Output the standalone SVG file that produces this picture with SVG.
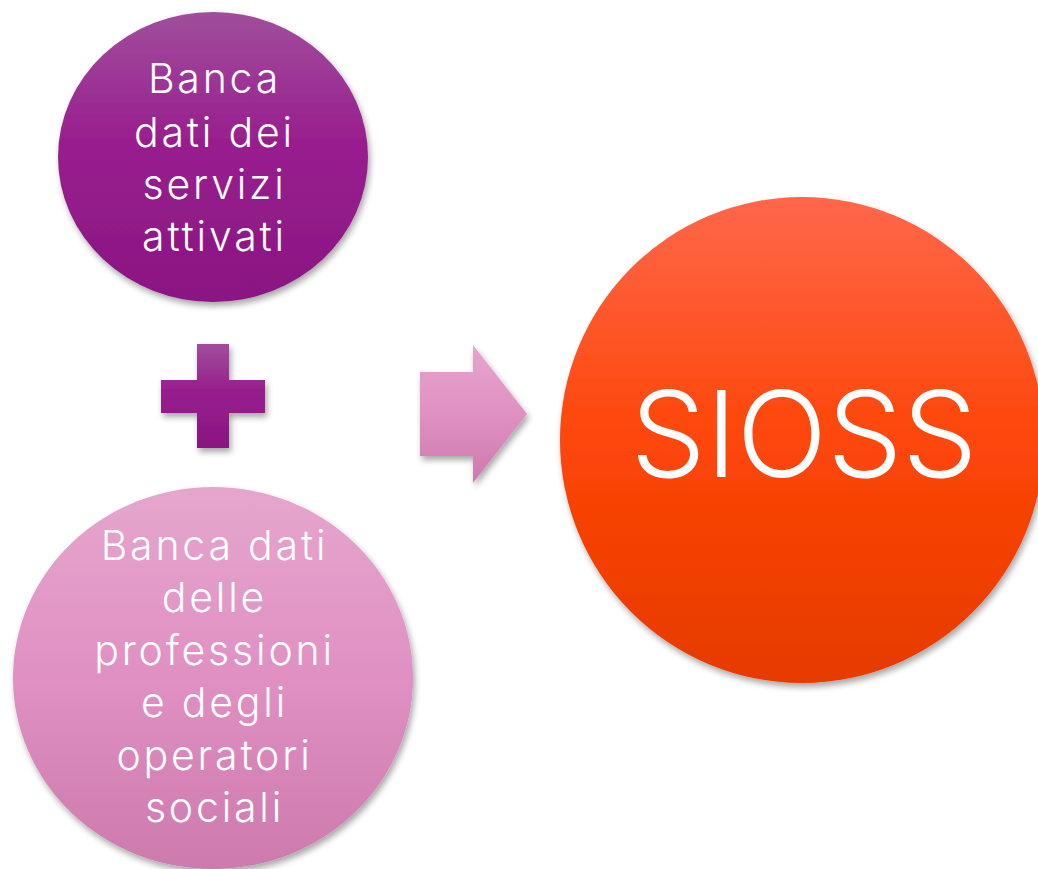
<svg xmlns="http://www.w3.org/2000/svg" width="1038" height="869" viewBox="0 0 1038 869">
<style>
.lbl{font-family:Inter,"Noto Sans","Liberation Sans",sans-serif;fill:#ffffff;text-anchor:middle;font-weight:300;font-variant-ligatures:none}
.sm{font-size:41px;letter-spacing:2.8px}
.big{font-size:119px}
</style>
<defs>
<filter id="sh" x="-20%" y="-20%" width="140%" height="140%">
<feDropShadow dx="2" dy="4" stdDeviation="3" flood-color="#000" flood-opacity="0.35"/>
</filter>
<linearGradient id="gPurple" x1="0" y1="0" x2="0" y2="1">
<stop offset="0" stop-color="#a04e9c"/>
<stop offset="0.45" stop-color="#981e8e"/>
<stop offset="1" stop-color="#8a1682"/>
</linearGradient>
<linearGradient id="gPink" x1="0" y1="0" x2="0" y2="1">
<stop offset="0" stop-color="#e5a6cd"/>
<stop offset="0.5" stop-color="#e090c3"/>
<stop offset="1" stop-color="#cd7aae"/>
</linearGradient>
<linearGradient id="gOrange" x1="0" y1="0" x2="0" y2="1">
<stop offset="0" stop-color="#ff674b"/>
<stop offset="0.5" stop-color="#fd4608"/>
<stop offset="1" stop-color="#e63a00"/>
</linearGradient>
</defs>
<rect width="1038" height="869" fill="#ffffff"/>
<g id="node-servizi">
<ellipse cx="213" cy="157" rx="155" ry="145" fill="url(#gPurple)" filter="url(#sh)"/>
<text class="lbl sm" x="214.5" y="93">Banca</text>
<text class="lbl sm" x="214.5" y="147">dati dei</text>
<text class="lbl sm" x="214.5" y="199">servizi</text>
<text class="lbl sm" x="214.5" y="251">attivati</text>
</g>
<g id="node-plus">
<path d="M197,344 H229 V380 H265 V413 H229 V448 H197 V413 H161 V380 H197 Z" fill="url(#gPurple)" filter="url(#sh)"/>
</g>
<g id="node-professioni">
<ellipse cx="213" cy="678" rx="200" ry="191" fill="url(#gPink)" filter="url(#sh)"/>
<text class="lbl sm" x="214.5" y="560">Banca dati</text>
<text class="lbl sm" x="214.5" y="612">delle</text>
<text class="lbl sm" x="214.5" y="665">professioni</text>
<text class="lbl sm" x="214.5" y="717">e degli</text>
<text class="lbl sm" x="214.5" y="770">operatori</text>
<text class="lbl sm" x="214.5" y="822">sociali</text>
</g>
<g id="connectors">
<path d="M420,372 H473 V345 L527,414 L473,483 V456 H420 Z" fill="url(#gPink)" filter="url(#sh)"/>
</g>
<g id="node-sioss">
<ellipse cx="802" cy="440" rx="242" ry="243" fill="url(#gOrange)" filter="url(#sh)"/>
<text class="lbl big" x="804" y="477">SIOSS</text>
</g>
</svg>
